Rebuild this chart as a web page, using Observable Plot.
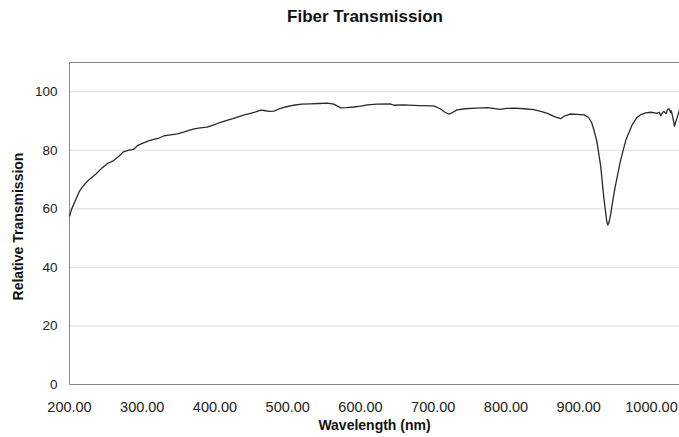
<!DOCTYPE html>
<html>
<head>
<meta charset="utf-8">
<script src="https://cdn.jsdelivr.net/npm/d3@7"></script>
<script src="https://cdn.jsdelivr.net/npm/@observablehq/plot@0.6"></script>
<style>
  html, body { margin: 0; padding: 0; background: #fff; }
  body { width: 679px; height: 437px; overflow: hidden; font-family: "Liberation Sans", Arial, sans-serif; }
  #title { height: 40px; box-sizing: border-box; padding-left: 51px; padding-top: 7px; text-align: center; font-weight: bold; font-size: 17px; color: #111; }
  svg { display: block; }
</style>
</head>
<body>
<div id="title">Fiber Transmission</div>
<div id="chart"></div>
<script>
const wavelengths = [200,203.1,208.4,213.6,217.8,223.0,229.3,236.6,244.9,252.2,260.6,267.9,274.2,280.4,287.8,293.0,299.2,308.6,317.0,323.3,329.5,338.9,348.3,356.6,364.0,371.3,379.7,389.1,398.5,406.8,416.2,424.6,433.0,440.3,448.6,457.0,463.3,467.4,474.8,481.0,488.3,496.7,508.2,518.6,531.2,542.6,554.1,563.5,567.7,572.9,581.2,590.6,600.0,609.4,623.0,640.8,646.0,659.6,680.5,700.4,709.8,716.0,721.3,726.5,732.8,743.2,759.9,774.6,792.3,800.7,811.1,824.7,838.3,847.7,857.1,866.5,874.9,881.1,888.4,897.8,907.2,913.5,917.7,920.8,925.0,930.2,934.4,938.6,940.1,941.7,943.8,946.9,950.1,957.4,964.7,973.1,979.3,984.5,991.9,999.2,1004.4,1007.5,1010.7,1012.8,1014.9,1017.0,1020.1,1022.2,1024.3,1026.4,1027.4,1029.5,1031.6,1033.7,1035.7,1038.5];
const transmission = [57.5,60,63,66,67.5,69,70.5,72,74,75.5,76.5,78,79.5,80,80.3,81.5,82.3,83.2,83.8,84.2,84.9,85.3,85.6,86.2,86.8,87.3,87.7,87.9,88.7,89.5,90.2,90.8,91.5,92.1,92.6,93.2,93.7,93.6,93.3,93.4,94.2,94.8,95.4,95.8,95.9,96.0,96.1,95.8,95.2,94.5,94.6,94.8,95.1,95.5,95.8,95.9,95.4,95.5,95.3,95.2,94.2,93.0,92.4,92.9,93.8,94.2,94.4,94.6,94.0,94.3,94.4,94.2,93.9,93.3,92.6,91.5,90.8,91.8,92.4,92.3,92.1,91.2,89.5,87.0,83.0,74.5,64.0,55.5,54.5,55.5,58.0,63.0,67.5,76.5,83.5,88.5,91.0,92.1,92.8,93.0,92.8,92.6,93.0,91.8,92.8,93.3,92.6,94.0,94.2,92.8,93.5,91.0,88.3,90.0,91.5,93.8];
const xTicks = [200,300,400,500,600,700,800,900,1000];
const yTicks = [0,20,40,60,80,100];

const data = wavelengths.map((w, i) => ({w, t: transmission[i]}));
const font = "Liberation Sans, Arial, sans-serif";

const chart = Plot.plot({
  width: 679,
  height: 397,
  marginLeft: 69,
  marginRight: 0,
  marginTop: 22,
  marginBottom: 53,
  style: {fontFamily: font, fontSize: "13px", color: "#222", background: "#fff"},
  x: {domain: [200, 1038.5]},
  y: {domain: [0, 110]},
  marks: [
    Plot.gridY(yTicks.filter(d => d > 0), {stroke: "#dcdcdc", strokeOpacity: 1, strokeWidth: 1}),
    Plot.ruleX([200], {stroke: "#8a8a8a"}),
    Plot.ruleY([0], {stroke: "#8a8a8a"}),
    Plot.ruleY([110], {stroke: "#8a8a8a"}),
    Plot.line(data, {x: "w", y: "t", stroke: "#2a2a2a", strokeWidth: 1.3, curve: "linear"}),
    Plot.axisY(yTicks, {tickSize: 0, tickPadding: 12, label: null, fontSize: 13.5}),
    Plot.axisX(xTicks, {tickSize: 0, tickPadding: 17, label: null, tickFormat: d => d.toFixed(2), fontSize: 14.5}),
    Plot.text(["Wavelength (nm)"], {frameAnchor: "bottom", dy: 41, lineAnchor: "middle", textAnchor: "middle", text: d => d, fontWeight: "bold", fontSize: 14, fill: "#111"}),
    Plot.text(["Relative Transmission"], {frameAnchor: "left", dx: -51, dy: 3, rotate: -90, textAnchor: "middle", lineAnchor: "middle", text: d => d, fontWeight: "bold", fontSize: 14, fill: "#111"})
  ]
});
document.getElementById("chart").appendChild(chart);
</script>
</body>
</html>
